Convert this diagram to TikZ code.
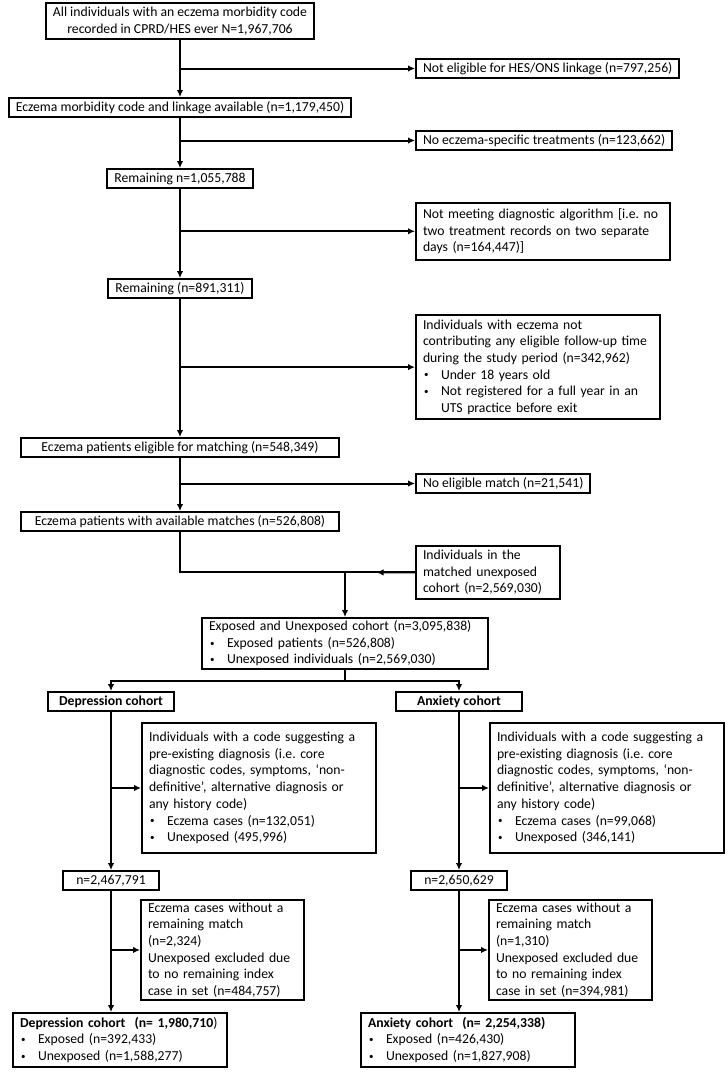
\documentclass[tikz,border=0pt]{standalone}
\usepackage{fontspec}
\setmainfont{Carlito}
\usetikzlibrary{arrows.meta,calc}
\frenchspacing

\newcommand{\fs}{\fontsize{13.7}{16.7}\selectfont}
\newcommand{\bul}{\makebox[18pt][l]{\hspace{1pt}\raisebox{1.2pt}{\fontsize{9}{9}\selectfont\textbullet}}}

\tikzset{
  box/.style={draw, line width=2pt, inner xsep=7pt, inner ysep=3pt, font=\fs},
  one/.style={text height=10pt, text depth=3pt},
  cbox/.style={box, one, anchor=north, align=center},
  rbox/.style={box, one, anchor=north west},
  lbox/.style={box, anchor=north west, align=left, text width=#1},
  conn/.style={line width=2pt},
  arr/.style={conn, -{Latex[length=7pt,width=6.5pt]}},
}

\begin{document}
\begin{tikzpicture}[x=1pt, y=-1pt]
    \useasboundingbox (0,0) rectangle (728,1074);

    % main trunk
    \node[box, anchor=north, align=center, inner ysep=4pt] (all) at (180,2) {All individuals with an eczema morbidity code\\recorded in CPRD/HES ever N=1,967,706};
    \node[cbox] (link) at (180,97) {Eczema morbidity code and linkage available (n=1,179,450)};
    \node[cbox] (rem1) at (180,168) {Remaining n=1,055,788};
    \node[cbox] (rem2) at (180,278) {Remaining (n=891,311)};
    \node[cbox, minimum width=318pt] (elig) at (180,437) {Eczema patients eligible for matching (n=548,349)};
    \node[cbox, minimum width=318pt] (avail) at (180,511) {Eczema patients with available matches (n=526,808)};

    % exclusions on the right
    \node[rbox] (ex1) at (415,58) {Not eligible for HES/ONS linkage (n=797,256)};
    \node[rbox] (ex2) at (415,130) {No eczema-specific treatments (n=123,662)};
    \node[lbox=240pt, inner ysep=5.5pt] (ex3) at (415,202) {Not meeting diagnostic algorithm [i.e. no\\two treatment records on two separate\\days (n=164,447)]};
    \node[lbox=230pt, inner ysep=4.5pt] (ex4) at (415,314) {Individuals with eczema not\\contributing any eligible follow-up time\\during the study period (n=342,962)\\\bul Under 18 years old\\\bul Not registered for a full year in an\\\hspace*{18pt}UTS practice before exit};
    \node[rbox] (ex5) at (415,473) {No eligible match (n=21,541)};
    \node[lbox=130pt, inner ysep=4pt] (mt) at (415,545) {Individuals in the\\matched unexposed\\cohort (n=2,569,030)};

    \node[lbox=272pt, inner ysep=2.5pt] (expo) at (201,617) {Exposed and Unexposed cohort (n=3,095,838)\\\bul Exposed patients (n=526,808)\\\bul Unexposed individuals (n=2,569,030)};

    \draw[arr] (all.south) -- (link.north);
    \draw[arr] (link.south) -- (rem1.north);
    \draw[arr] (rem1.south) -- (rem2.north);
    \draw[arr] (rem2.south) -- (elig.north);
    \draw[arr] (elig.south) -- (avail.north);
    \draw[arr] (ex1.west -| all.south) -- (ex1.west);
    \draw[arr] (ex2.west -| link.south) -- (ex2.west);
    \draw[arr] (ex3.west -| rem1.south) -- (ex3.west);
    \draw[arr] (ex4.west -| rem2.south) -- (ex4.west);
    \draw[arr] (ex5.west -| elig.south) -- (ex5.west);

    % matching
    \coordinate (join) at (expo.north |- mt.west);
    \draw[conn] (avail.south) |- (join);
    \draw[conn] (mt.west) -- (join);
    \draw[arr] (mt.west) -- ($(join)!0.45!(mt.west)$);
    \draw[arr] (join) -- (expo.north);

    % one column per outcome
    \newcommand{\cohortcol}[9]{
        \node[cbox, minimum width=126pt, font=\fs\bfseries] (#1hd) at (#2+111,691) {#3};
        \node[lbox=220pt, inner ysep=9pt] (#1pe) at (#2+141,722) {Individuals with a code suggesting a\\pre-existing diagnosis (i.e. core\\diagnostic codes, symptoms, ‘non-\\definitive’, alternative diagnosis or\\any history code)\\\bul Eczema cases (n=#4)\\\bul Unexposed (#5)};
        \node[cbox, minimum width=96pt] (#1nn) at (#2+111,870) {n=#6};
        \node[lbox=149pt, inner ysep=2.5pt] (#1ec) at (#2+140,899) {Eczema cases without a\\remaining match\\(n=#7)\\Unexposed excluded due\\to no remaining index\\case in set (n=#8)};
        \node[lbox=200pt, inner ysep=4pt] (#1fin) at (#2+12,1012) {#9};
        \draw[arr] (#1hd.south) -- (#1nn.north);
        \draw[arr] (#1pe.west -| #1hd.south) -- (#1pe.west);
        \draw[arr] (#1nn.south) -- (#1nn.south |- #1fin.north);
        \draw[arr] (#1ec.west -| #1nn.south) -- (#1ec.west);
    }

    \cohortcol{L}{0}{Depression cohort}{132,051}{495,996}{2,467,791}{2,324}{484,757}{\textbf{Depression cohort\ \ (n= 1,980,710})\\\bul Exposed (n=392,433)\\\bul Unexposed (n=1,588,277)}
    \cohortcol{R}{348}{Anxiety cohort}{99,068}{346,141}{2,650,629}{1,310}{394,981}{\textbf{Anxiety cohort\ \ (n= 2,254,338)}\\\bul Exposed (n=426,430)\\\bul Unexposed (n=1,827,908)}

    \coordinate (split) at ($(expo.south)+(0,11)$);
    \draw[conn] (expo.south) -- (split);
    \draw[arr] (split) -| (Lhd.north);
    \draw[arr] (split) -| (Rhd.north);
\end{tikzpicture}
\end{document}
